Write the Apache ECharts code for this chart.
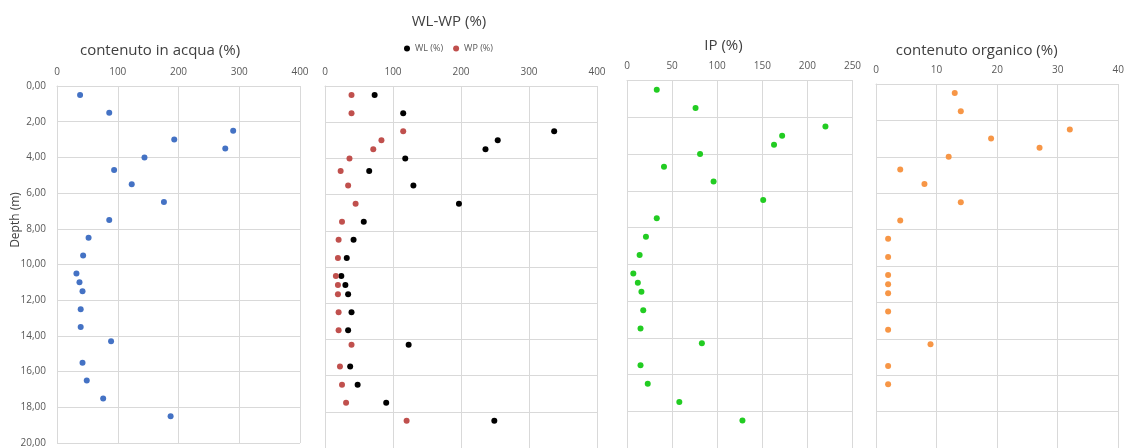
<!DOCTYPE html>
<html>
<head>
<meta charset="utf-8">
<script src="https://cdn.jsdelivr.net/npm/echarts@6/dist/echarts.min.js"></script>
<style>
  html, body { margin: 0; padding: 0; background: #fff; }
  #chart { width: 1127px; height: 448px; }
</style>
</head>
<body>
<div id="chart"></div>
<script>
// profondità (m) dei campioni
const depths = [0.5, 1.5, 2.5, 3.0, 3.5, 4.0, 4.7, 5.5, 6.5, 7.5, 8.5, 9.5, 10.5, 11.0, 11.5, 12.5, 13.5, 14.3, 15.5, 16.5, 17.5, 18.5];

const acqua = [38, 86, 290, 193, 277, 144, 94, 123, 176, 86, 52, 43, 32, 37, 42, 39, 39, 89, 42, 49, 76, 187];
const wl = [73, 115, 337, 254, 236, 118, 65, 130, 197, 57, 42, 32, 24, 30, 34, 39, 34, 123, 37, 48, 90, 249];
const wp = [39, 39, 115, 83, 71, 36, 23, 34, 45, 25, 20, 19, 16, 19, 19, 20, 20, 39, 22, 25, 31, 120];
const ip = [33, 76, 220, 172, 163, 81, 41, 96, 151, 33, 21, 14, 7, 12, 16, 18, 15, 83, 15, 23, 58, 128];
// contenuto organico: solo i primi 20 campioni
const organico = [13, 14, 32, 19, 27, 12, 4, 8, 14, 4, 2, 2, 2, 2, 2, 2, 2, 9, 2, 2];

const titoli = ["contenuto in acqua (%)", "WL-WP (%)", "IP (%)", "contenuto organico (%)"];

const FONT = "'Open Sans', sans-serif";
const GRID_COLOR = "#d9d9d9";
const LABEL_COLOR = "#595959";

const pairs = (vals) => vals.map((v, i) => [v, depths[i]]);

const grids = [
  { left: 57, top: 86, width: 243, height: 361 },
  { left: 325, top: 86, width: 272, height: 364 },
  { left: 627, top: 80.5, width: 225.5, height: 370 },
  { left: 876, top: 84, width: 243, height: 405 },
];

const xRanges = [
  { max: 400, interval: 100 },
  { max: 400, interval: 100 },
  { max: 250, interval: 50 },
  { max: 40, interval: 10 },
];

const xAxes = xRanges.map((r, i) => ({
  type: "value",
  gridIndex: i,
  position: "top",
  min: 0,
  max: r.max,
  interval: r.interval,
  axisLine: { show: true, lineStyle: { color: GRID_COLOR } },
  axisTick: { show: false },
  axisLabel: { color: LABEL_COLOR, fontSize: 10, fontFamily: FONT, margin: 9 },
  splitLine: { show: true, lineStyle: { color: GRID_COLOR } },
}));

const yAxes = grids.map((g, i) => ({
  type: "value",
  gridIndex: i,
  inverse: true,
  min: 0,
  max: 20,
  interval: 2,
  axisLine: { show: true, lineStyle: { color: GRID_COLOR } },
  axisTick: { show: false },
  axisLabel: {
    show: i === 0,
    color: LABEL_COLOR,
    fontSize: 10,
    fontFamily: FONT,
    margin: 11,
    formatter: (v) => v.toFixed(2).replace(".", ","),
  },
  splitLine: { show: true, lineStyle: { color: GRID_COLOR } },
}));

const titlePos = [
  [160, 43], [449, 14], [723.5, 38], [976.7, 43],
];

const scatter = (name, data, idx, color) => ({
  name: name,
  type: "scatter",
  xAxisIndex: idx,
  yAxisIndex: idx,
  data: pairs(data),
  symbolSize: 6,
  itemStyle: { color: color, opacity: 1 },
  silent: true,
});

const chart = echarts.init(document.getElementById("chart"));

chart.setOption({
  animation: false,
  backgroundColor: "#fff",
  textStyle: { fontFamily: FONT },
  title: titoli.map((t, i) => ({
    text: t,
    left: titlePos[i][0],
    top: titlePos[i][1],
    textAlign: "center",
    padding: 0,
    textStyle: { fontSize: 15, fontWeight: "normal", color: "#404040", fontFamily: FONT },
  })),
  legend: {
    data: ["WL (%)", "WP (%)"],
    left: 404,
    top: 44,
    icon: "circle",
    itemWidth: 6,
    itemHeight: 6,
    itemGap: 10,
    padding: 0,
    textStyle: { fontSize: 9, color: LABEL_COLOR, fontFamily: FONT },
  },
  grid: grids,
  xAxis: xAxes,
  yAxis: yAxes,
  graphic: [{
    type: "text",
    x: 16,
    y: 220,
    rotation: Math.PI / 2,
    style: {
      text: "Depth (m)",
      fontSize: 12,
      fontFamily: FONT,
      fill: "#404040",
      textAlign: "center",
      textVerticalAlign: "middle",
    },
  }],
  series: [
    scatter("contenuto in acqua (%)", acqua, 0, "#4472c4"),
    scatter("WL (%)", wl, 1, "#000000"),
    scatter("WP (%)", wp, 1, "#c0504d"),
    scatter("IP (%)", ip, 2, "#22cc22"),
    scatter("contenuto organico (%)", organico, 3, "#f79646"),
  ],
});
</script>
</body>
</html>
